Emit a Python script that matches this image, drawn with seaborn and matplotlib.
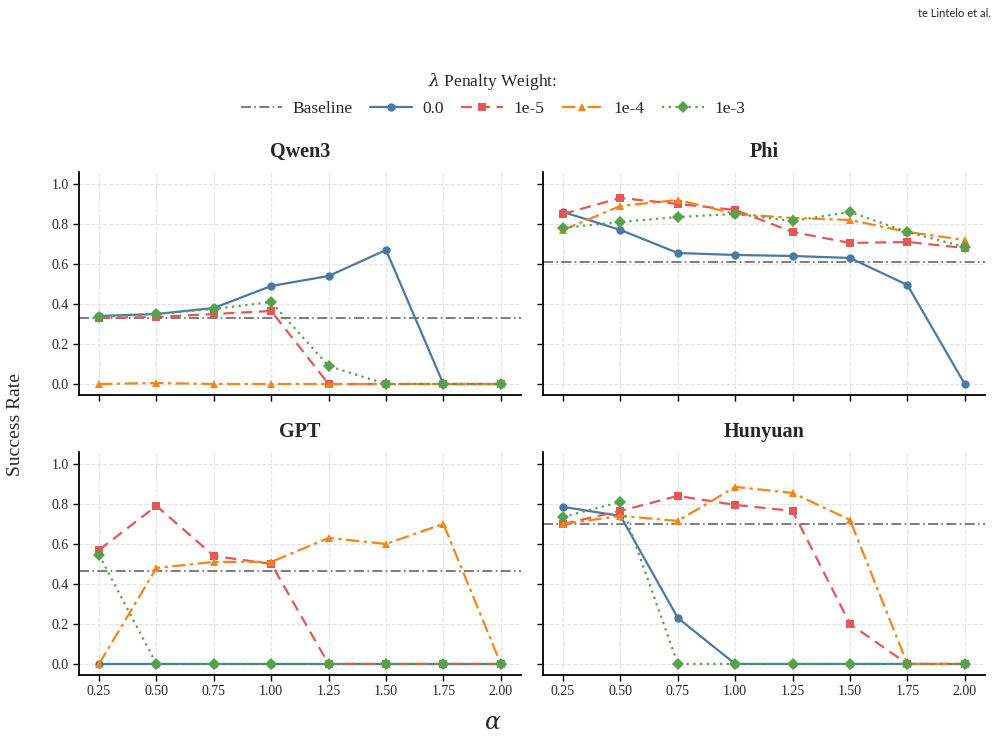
import numpy as np
import pandas as pd
import matplotlib
matplotlib.use("Agg")
import matplotlib.pyplot as plt
import seaborn as sns

sns.set_theme(style="ticks")
plt.rcParams['font.family'] = ['Liberation Serif', 'DejaVu Serif']
plt.rcParams['mathtext.fontset'] = 'dejavuserif'

####################################################################
alphas = [0.25, 0.50, 0.75, 1.00, 1.25, 1.50, 1.75, 2.00]
weights = ['0.0', '1e-5', '1e-4', '1e-3']
models = ['Qwen3', 'Phi', 'GPT', 'Hunyuan']

# success rate per model, per penalty weight
qwen3_00 = [0.34, 0.35, 0.38, 0.49, 0.54, 0.67, 0.0, 0.0]
qwen3_1e5 = [0.33, 0.335, 0.35, 0.365, 0.0, 0.0, 0.0, 0.0]
qwen3_1e4 = [0.0, 0.005, 0.0, 0.0, 0.0, 0.0, 0.0, 0.0]
qwen3_1e3 = [0.335, 0.35, 0.375, 0.41, 0.09, 0.0, 0.0, 0.0]

phi_00 = [0.86, 0.77, 0.655, 0.645, 0.64, 0.63, 0.495, 0.0]
phi_1e5 = [0.85, 0.93, 0.90, 0.87, 0.76, 0.705, 0.71, 0.68]
phi_1e4 = [0.77, 0.89, 0.92, 0.85, 0.83, 0.82, 0.76, 0.72]
phi_1e3 = [0.78, 0.81, 0.835, 0.85, 0.815, 0.86, 0.76, 0.685]

gpt_00 = [0.0, 0.0, 0.0, 0.0, 0.0, 0.0, 0.0, 0.0]
gpt_1e5 = [0.57, 0.79, 0.54, 0.50, 0.0, 0.0, 0.0, 0.0]
gpt_1e4 = [0.0, 0.48, 0.51, 0.51, 0.63, 0.60, 0.70, 0.0]
gpt_1e3 = [0.545, 0.0, 0.0, 0.0, 0.0, 0.0, 0.0, 0.0]

hunyuan_00 = [0.785, 0.74, 0.23, 0.0, 0.0, 0.0, 0.0, 0.0]
hunyuan_1e5 = [0.70, 0.765, 0.84, 0.795, 0.765, 0.20, 0.0, 0.0]
hunyuan_1e4 = [0.70, 0.74, 0.715, 0.885, 0.855, 0.72, 0.0, 0.0]
hunyuan_1e3 = [0.735, 0.81, 0.0, 0.0, 0.0, 0.0, 0.0, 0.0]

baselines = [0.33, 0.61, 0.465, 0.70]
####################################################################

series = {
    'Qwen3': [qwen3_00, qwen3_1e5, qwen3_1e4, qwen3_1e3],
    'Phi': [phi_00, phi_1e5, phi_1e4, phi_1e3],
    'GPT': [gpt_00, gpt_1e5, gpt_1e4, gpt_1e3],
    'Hunyuan': [hunyuan_00, hunyuan_1e5, hunyuan_1e4, hunyuan_1e3],
}

colors = ['#4c78a8', '#e45756', '#f58518', '#54a24b']
markers = ['o', 's', '^', 'D']
dashes = ['-', (0, (5, 3)), (0, (6, 2, 1.5, 2)), (0, (1, 2))]

fig, axes = plt.subplots(2, 2, figsize=(10.06, 7.38), dpi=100, sharex=True, sharey=True)
fig.subplots_adjust(left=0.0785, right=0.979, top=0.767, bottom=0.0854, wspace=0.05, hspace=0.255)

for ax, model, base in zip(axes.flat, models, baselines):
    ax.axhline(base, color='#666666', lw=1.2, ls=(0, (6, 2, 1, 2)), label='Baseline', zorder=1)
    for vals, w, c, m, d in zip(series[model], weights, colors, markers, dashes):
        df = pd.DataFrame({'alpha': alphas, 'rate': vals})
        sns.lineplot(data=df, x='alpha', y='rate', ax=ax, color=c, marker=m, markersize=6,
                     markeredgewidth=0, lw=1.6, label=w, zorder=3)
        ax.lines[-1].set_linestyle(d)
    ax.set_title(model, fontsize=14.5, fontweight='bold', pad=11)
    ax.set_xlabel('')
    ax.set_ylabel('')
    ax.set_ylim(-0.055, 1.06)
    ax.set_xticks(alphas)
    ax.set_xticklabels([f'{a:.2f}' for a in alphas])
    ax.set_yticks(np.arange(0, 1.01, 0.2))
    ax.grid(True, ls='--', color='#e3e3e3', lw=0.8)
    ax.tick_params(labelsize=10, length=4, width=1.0, color='black')
    for s in ['left', 'bottom']:
        ax.spines[s].set_color('black')
        ax.spines[s].set_linewidth(1.3)
    if ax.get_legend() is not None:
        ax.get_legend().remove()
sns.despine(fig=fig)

handles, labels = axes[0, 0].get_legend_handles_labels()
leg = fig.legend(handles, labels, loc='upper center', bbox_to_anchor=(0.49, 0.925), ncol=5,
                 frameon=False, fontsize=12.5, title=r'$\lambda$ Penalty Weight:', title_fontsize=12.5,
                 handlelength=2.4, columnspacing=1.0, handletextpad=0.6)

fig.text(0.015, 0.425, 'Success Rate', rotation=90, va='center', ha='center', fontsize=14)
fig.text(0.49, 0.02, r'$\alpha$', ha='center', va='center', fontsize=17)
fig.text(0.985, 0.982, 'te Lintelo et al.', ha='right', va='center', fontsize=8,
         family=['Lato', 'DejaVu Sans'])

plt.savefig('out.png', dpi=100)
